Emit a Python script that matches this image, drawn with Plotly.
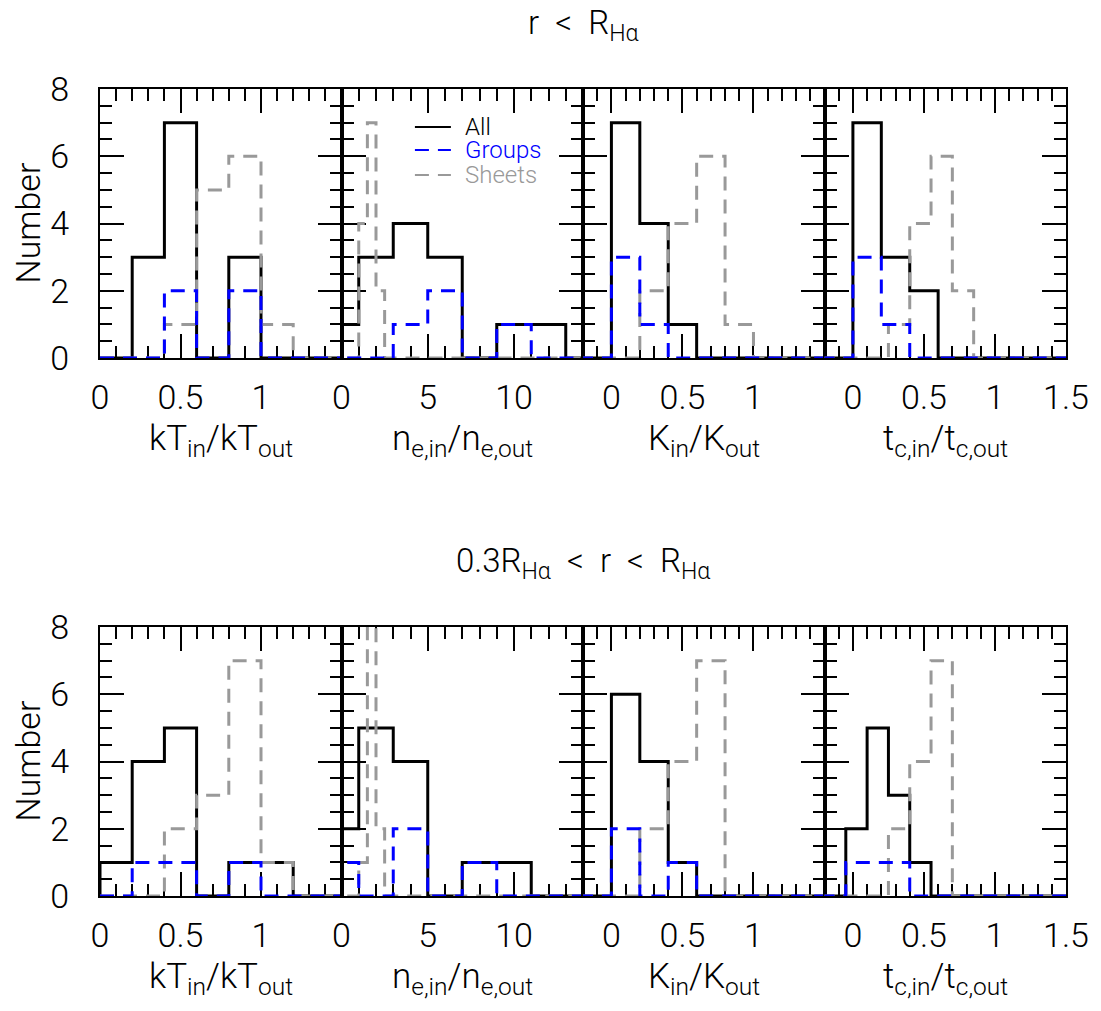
import plotly.graph_objects as go

W, H = 1101, 1011

# ---------------- data ----------------
kT_edges = [0.0, 0.2, 0.4, 0.6, 0.8, 1.0, 1.2, 1.4, 1.6]
a_kT_all = [0, 3, 7, 0, 3, 0, 0, 0]
a_kT_groups = [0, 0, 2, 0, 2, 0, 0, 0]
a_kT_sheets = [0, 0, 1, 5, 6, 1, 0, 0]
b_kT_all = [1, 4, 5, 0, 1, 1, 0, 0]
b_kT_groups = [0, 1, 1, 0, 1, 0, 0, 0]
b_kT_sheets = [0, 0, 2, 3, 7, 1, 0, 0]

ne_edges = [-1, 1, 3, 5, 7, 9, 11, 13, 15]
ne_sheet_edges = [0.0, 0.5, 1.0, 1.5, 2.0, 2.5, 3.0]
a_ne_all = [1, 3, 4, 3, 0, 1, 1, 0]
a_ne_groups = [0, 0, 1, 2, 0, 1, 0, 0]
a_ne_sheets = [0, 0, 4, 7, 2, 0]
b_ne_all = [2, 5, 4, 0, 1, 1, 0, 0]
b_ne_groups = [1, 0, 2, 0, 1, 0, 0, 0]
b_ne_sheets = [0, 0, 1, 8, 2, 0]

K_edges = [-0.2, 0.0, 0.2, 0.4, 0.6, 0.8, 1.0, 1.2, 1.4, 1.6]
a_K_all = [0, 7, 4, 1, 0, 0, 0, 0, 0]
a_K_groups = [0, 3, 1, 0, 0, 0, 0, 0, 0]
a_K_sheets = [0, 0, 2, 4, 6, 1, 0, 0, 0]
b_K_all = [0, 6, 4, 1, 0, 0, 0, 0, 0]
b_K_groups = [0, 2, 0, 1, 0, 0, 0, 0, 0]
b_K_sheets = [0, 0, 2, 4, 7, 0, 0, 0, 0]

tc_edges = [-0.2, 0.0, 0.2, 0.4, 0.6, 0.8, 1.0, 1.2, 1.4, 1.6]
tc_fine_edges = [-0.2, -0.05, 0.1, 0.25, 0.4, 0.55, 0.7, 0.85, 1.0, 1.15, 1.3, 1.45, 1.6]
a_tc_all = [0, 7, 3, 2, 0, 0, 0, 0, 0]
a_tc_groups = [0, 3, 1, 0, 0, 0, 0, 0, 0]
a_tc_sheets = [0, 0, 0, 1, 4, 6, 2, 0, 0, 0, 0, 0]
b_tc_all = [0, 2, 5, 3, 1, 0, 0, 0, 0, 0, 0, 0]
b_tc_groups = [0, 1, 1, 1, 0, 0, 0, 0, 0, 0, 0, 0]
b_tc_sheets = [0, 0, 0, 2, 4, 7, 0, 0, 0, 0, 0, 0]

x_ranges = [[0, 1.5], [0, 14], [-0.2, 1.5], [-0.2, 1.5]]
x_tickvals = [[0, 0.5, 1], [0, 5, 10], [0, 0.5, 1], [0, 0.5, 1, 1.5]]
x_ticktext = [["0", "0.5", "1"], ["0", "5", "10"], ["0", "0.5", "1"], ["0", "0.5", "1", "1.5"]]
x_minor = [0.1, 1, 0.1, 0.1]
x_titles = ["kT<sub>in</sub>/kT<sub>out</sub>", "n<sub>e,in</sub>/n<sub>e,out</sub>",
            "K<sub>in</sub>/K<sub>out</sub>", "t<sub>c,in</sub>/t<sub>c,out</sub>"]
y_tickvals = [0, 2, 4, 6, 8]
row_titles = ["r  <  R<sub>Hα</sub>", "0.3R<sub>Hα</sub>  <  r  <  R<sub>Hα</sub>"]
legend_names = ["All", "Groups", "Sheets"]

panels = [
    # top row
    [(kT_edges, a_kT_all), (kT_edges, a_kT_sheets), (kT_edges, a_kT_groups)],
    [(ne_edges, a_ne_all), (ne_sheet_edges, a_ne_sheets), (ne_edges, a_ne_groups)],
    [(K_edges, a_K_all), (K_edges, a_K_sheets), (K_edges, a_K_groups)],
    [(tc_edges, a_tc_all), (tc_fine_edges, a_tc_sheets), (tc_edges, a_tc_groups)],
    # bottom row
    [(kT_edges, b_kT_all), (kT_edges, b_kT_sheets), (kT_edges, b_kT_groups)],
    [(ne_edges, b_ne_all), (ne_sheet_edges, b_ne_sheets), (ne_edges, b_ne_groups)],
    [(K_edges, b_K_all), (K_edges, b_K_sheets), (K_edges, b_K_groups)],
    [(tc_fine_edges, b_tc_all), (tc_fine_edges, b_tc_sheets), (tc_fine_edges, b_tc_groups)],
]

# ---------------- styling ----------------
FONT = "Roboto"
BLACK = "#000000"
BLUE = "#0000ff"
GRAY = "#999999"
styles = [dict(color=BLACK, width=3, dash="solid"),
          dict(color=GRAY, width=3, dash="14px,9px"),
          dict(color=BLUE, width=3, dash="14px,9px")]

col_px = [100, 341.5, 583, 824.5, 1066]
row_px = [(89, 358), (627, 896)]


def step(edges, counts, rmin, rmax):
    xs = list(edges)
    ys = list(counts) + [0]
    if xs[0] > rmin:
        xs = [rmin] + xs
        ys = [0] + ys
    if xs[-1] < rmax:
        xs = xs + [rmax]
        ys = ys + [0]
    return xs, ys


def sfx(i):
    return "" if i == 1 else str(i)


fig = go.Figure()
layout = dict(width=W, height=H, margin=dict(l=0, r=0, t=0, b=0, autoexpand=False),
              paper_bgcolor="white", plot_bgcolor="white", showlegend=False,
              font=dict(family=FONT, color="black", size=30, weight=300))

annotations = []
shapes = []

for p in range(8):
    row, col = divmod(p, 4)
    ax = p + 1
    s = sfx(ax)
    xr = x_ranges[col]
    for (edges, counts), st in zip(panels[p], styles):
        xs, ys = step(edges, counts, xr[0] - 1, xr[1] + 1)
        fig.add_trace(go.Scatter(x=xs, y=ys, mode="lines", line_shape="hv",
                                 line=st, xaxis=f"x{s}", yaxis=f"y{s}",
                                 hoverinfo="skip"))
    y0, y1 = row_px[row]
    layout[f"xaxis{ax}"] = dict(
        domain=[col_px[col] / W, col_px[col + 1] / W], anchor=f"y{s}",
        range=xr, tickmode="array", tickvals=x_tickvals[col], ticktext=x_ticktext[col],
        ticks="inside", ticklen=24, tickwidth=2, tickcolor="black",
        minor=dict(ticks="inside", ticklen=12, tickwidth=2, tickcolor="black",
                   tickmode="linear", tick0=0, dtick=x_minor[col]),
        showline=True, linewidth=2, linecolor="black", mirror="allticks",
        showgrid=False, zeroline=False, layer="below traces", automargin=False,
        tickfont=dict(family=FONT, size=34, color="black", weight=300),
        ticklabelstandoff=8, fixedrange=True)
    layout[f"yaxis{ax}"] = dict(
        domain=[1 - y1 / H, 1 - y0 / H], anchor=f"x{s}",
        range=[0, 8], tickmode="array", tickvals=y_tickvals,
        showticklabels=(col == 0),
        ticks="inside", ticklen=24, tickwidth=2, tickcolor="black",
        minor=dict(ticks="inside", ticklen=12, tickwidth=2, tickcolor="black",
                   tickmode="linear", tick0=0, dtick=0.5),
        showline=True, linewidth=2, linecolor="black", mirror="allticks",
        showgrid=False, zeroline=False, layer="below traces", automargin=False,
        tickfont=dict(family=FONT, size=34, color="black", weight=300),
        ticklabelstandoff=22, fixedrange=True)
    annotations.append(dict(text=x_titles[col], xref=f"x{s} domain", x=0.5,
                            yref="paper", y=1 - (y1 + 82) / H, xanchor="center",
                            yanchor="middle", showarrow=False,
                            font=dict(family=FONT, size=35, weight=300)))

for r in range(2):
    y0, y1 = row_px[r]
    annotations.append(dict(text=row_titles[r], xref="paper", x=583 / W, yref="paper",
                            y=1 - (y0 - 64) / H, xanchor="center", yanchor="middle",
                            showarrow=False, font=dict(family=FONT, size=33, weight=300)))
    annotations.append(dict(text="Number", xref="paper", x=27 / W, yref="paper",
                            y=1 - (y0 + y1) / 2 / H, xanchor="center", yanchor="middle",
                            textangle=-90, showarrow=False,
                            font=dict(family=FONT, size=34, weight=300)))

# legend inside the second top panel
leg_y = [0.859, 0.773, 0.680]
leg_colors = [BLACK, BLUE, GRAY]
leg_dash = ["solid", "14px,9px", "14px,9px"]
for name, yy, c, d in zip(legend_names, leg_y, leg_colors, leg_dash):
    shapes.append(dict(type="line", xref="x2 domain", yref="y2 domain",
                       x0=0.304, x1=0.453, y0=yy, y1=yy,
                       line=dict(color=c, width=2, dash=d)))
    annotations.append(dict(text=name, xref="x2 domain", yref="y2 domain",
                            x=0.505, y=yy, xanchor="left", yanchor="middle",
                            showarrow=False, font=dict(family=FONT, size=24, color=c, weight=300)))

layout["annotations"] = annotations
layout["shapes"] = shapes
fig.update_layout(**layout)
fig.write_html("out.html")
